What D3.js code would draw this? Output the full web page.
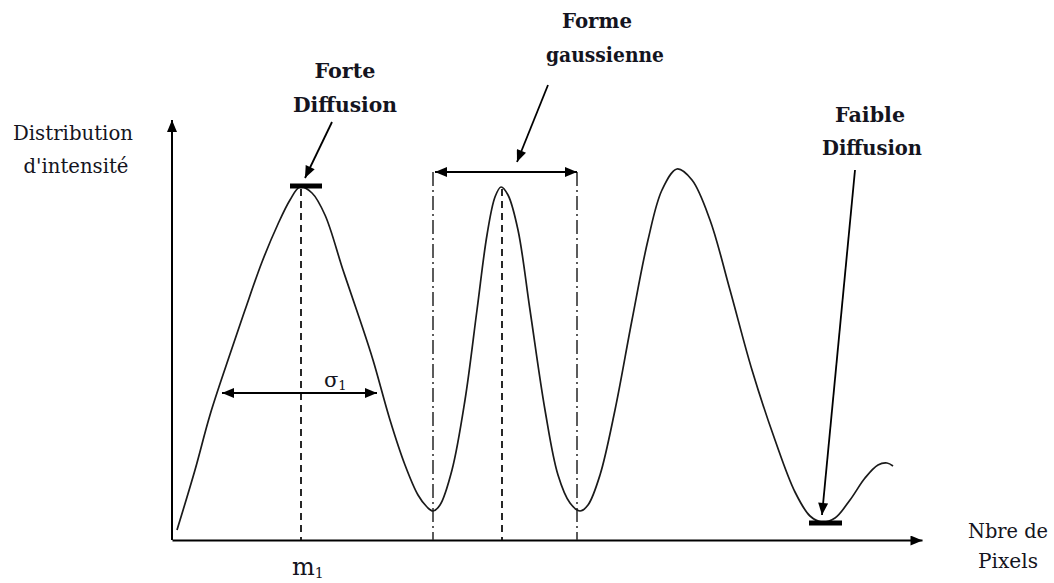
<!DOCTYPE html>
<html>
<head>
<meta charset="utf-8">
<script src="https://cdn.jsdelivr.net/npm/d3@7/dist/d3.min.js"></script>
<style>
  html, body { margin: 0; padding: 0; background: #fff; }
  svg { display: block; }
</style>
</head>
<body>
<svg id="chart" width="1054" height="583"></svg>
<script>
// ---- data (x: pixel index units, y: intensity units) ----
const curveX = [5,23,38,56,73,90,106,118,128,
                140,153,171,188,201,218,233,246,255,261,
                268,280,293,305,315,323,329,
                336,346,358,373,386,398,408,
                416,428,443,460,476,490,505,
                520,538,558,580,603,623,638,650,
                663,678,693,706,715,721];
const curveY = [10,70,125,180,230,278,316,340,353,
                347,325,270,220,180,120,75,45,33,29,
                35,70,140,230,305,343,353,
                345,310,230,130,65,37,29,
                35,65,130,220,300,350,371,
                360,320,250,170,100,48,24,18,
                22,40,62,75,77,74];
const peakX = [129, 330];          // m1 and second peak (dashed guides)
const peakY = [353, 353];
const boundX = [261, 405];         // dash-dot bounds of the gaussian
const boundTopY = 368;
const sigmaSpan = [50, 205];       // sigma double arrow
const sigmaY = 147;
const strongMark = { x0: 118, x1: 150, y: 354 };
const weakMark = { x0: 637, x1: 670, y: 17 };
const axisLabelsY = ["Distribution", "d'intensité"];
const axisLabelsX = ["Nbre de", "Pixels"];

const FONT = "'DejaVu Serif', 'Liberation Serif', serif";
const svg = d3.select("#chart");
const x = d3.scaleLinear().domain([0, 750]).range([172, 922]);
const y = d3.scaleLinear().domain([0, 420]).range([540, 120]);

// markers
const defs = svg.append("defs");
defs.append("marker")
  .attr("id", "arrow")
  .attr("viewBox", "0 0 12 10")
  .attr("refX", 12).attr("refY", 5)
  .attr("markerWidth", 13).attr("markerHeight", 10)
  .attr("markerUnits", "userSpaceOnUse")
  .attr("orient", "auto-start-reverse")
  .append("path").attr("d", "M0,0 L12,5 L0,10 Z").attr("fill", "#000");

// axes (no ticks)
const gx = svg.append("g").attr("transform", `translate(0,${y(0)})`)
  .call(d3.axisBottom(x).tickValues([]).tickSizeOuter(0));
gx.select(".domain").attr("stroke", "#000").attr("stroke-width", 2).attr("marker-end", "url(#arrow)");
const gy = svg.append("g").attr("transform", `translate(${x(0)},0)`)
  .call(d3.axisLeft(y).tickValues([]).tickSizeOuter(0));
gy.select(".domain").attr("stroke", "#000").attr("stroke-width", 2)
  .attr("d", `M0,${y(0)}V${y(420)}`)
  .attr("marker-end", "url(#arrow)");

// guides
svg.selectAll("line.dash").data(peakX).enter().append("line")
  .attr("class", "dash")
  .attr("x1", d => x(d)).attr("x2", d => x(d))
  .attr("y1", (d, i) => y(peakY[i]) + 2).attr("y2", y(0))
  .attr("stroke", "#111").attr("stroke-width", 1.8)
  .attr("stroke-dasharray", "7,5");
svg.selectAll("line.dashdot").data(boundX).enter().append("line")
  .attr("class", "dashdot")
  .attr("x1", d => x(d)).attr("x2", d => x(d))
  .attr("y1", y(boundTopY)).attr("y2", y(0))
  .attr("stroke", "#333").attr("stroke-width", 1.6)
  .attr("stroke-dasharray", "14,4,2,4");

// curve
const pts = curveX.map((d, i) => [d, curveY[i]]);
svg.append("path").datum(pts)
  .attr("d", d3.line().x(d => x(d[0])).y(d => y(d[1])).curve(d3.curveCatmullRom.alpha(0.5)))
  .attr("fill", "none").attr("stroke", "#1a1a1a").attr("stroke-width", 1.7);

// thick marks
[strongMark, weakMark].forEach(m => {
  svg.append("line")
    .attr("x1", x(m.x0)).attr("x2", x(m.x1))
    .attr("y1", y(m.y)).attr("y2", y(m.y))
    .attr("stroke", "#000").attr("stroke-width", 5);
});

// double arrows
svg.append("line")
  .attr("x1", x(sigmaSpan[0])).attr("x2", x(sigmaSpan[1]))
  .attr("y1", y(sigmaY)).attr("y2", y(sigmaY))
  .attr("stroke", "#000").attr("stroke-width", 2)
  .attr("marker-start", "url(#arrow)").attr("marker-end", "url(#arrow)");
svg.append("line")
  .attr("x1", x(boundX[0]) + 2).attr("x2", x(boundX[1]))
  .attr("y1", y(boundTopY)).attr("y2", y(boundTopY))
  .attr("stroke", "#000").attr("stroke-width", 2)
  .attr("marker-start", "url(#arrow)").attr("marker-end", "url(#arrow)");

// pointer arrows
const pointers = [
  [[160, 418], [133, 362]],
  [[376, 455], [345, 378]],
  [[683, 370], [650, 25]]
];
pointers.forEach(p => {
  svg.append("line")
    .attr("x1", x(p[0][0])).attr("y1", y(p[0][1]))
    .attr("x2", x(p[1][0])).attr("y2", y(p[1][1]))
    .attr("stroke", "#000").attr("stroke-width", 1.8)
    .attr("marker-end", "url(#arrow)");
});

// texts
function label(txt, cx, by, size, bold, len) {
  const t = svg.append("text").attr("x", cx).attr("y", by)
    .attr("text-anchor", "middle")
    .style("font-family", FONT)
    .attr("fill", "#141420")
    .attr("font-size", size).attr("font-weight", bold ? "bold" : "normal")
    .text(txt);
  if (len) t.attr("textLength", len).attr("lengthAdjust", "spacingAndGlyphs");
  return t;
}
label("Forte", 345, 78, 20, true, 61);
label("Diffusion", 345, 112, 20, true, 104);
label("Forme", 597, 28, 20, true, 70);
label("gaussienne", 605, 62, 20, true, 118);
label("Faible", 870, 122, 20, true, 70);
label("Diffusion", 872, 155, 20, true, 100);
label(axisLabelsY[0], 73, 140, 20, false, 120);
label(axisLabelsY[1], 76, 173, 20, false, 105);
label(axisLabelsX[0], 1008, 538, 20, false, 80);
label(axisLabelsX[1], 1008, 568, 20, false, 60);

// m1 and sigma1
const m = svg.append("text").attr("x", 292).attr("y", 575).attr("font-size", 24)
  .style("font-family", FONT).attr("fill", "#141420");
m.append("tspan").text("m");
m.append("tspan").attr("font-size", 14).attr("dy", 3).text("1");
const s = svg.append("text").attr("x", 324).attr("y", 387).attr("font-size", 21)
  .style("font-family", FONT).attr("fill", "#141420");
s.append("tspan").text("σ");
s.append("tspan").attr("font-size", 13).attr("dy", 3).text("1");
</script>
</body>
</html>
